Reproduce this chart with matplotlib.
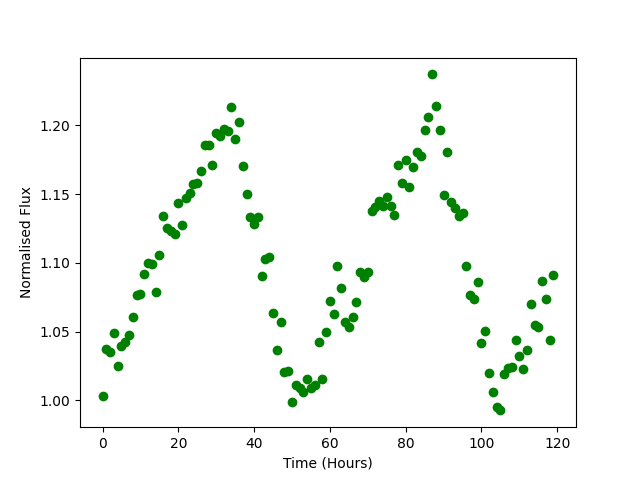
import matplotlib
matplotlib.use("Agg")
import matplotlib.pyplot as plt
import numpy as np

time_hours = np.arange(0, 120)
flux = [
    1.0029, 1.0371, 1.0349, 1.0487, 1.0249, 1.0395, 1.0424, 1.0473, 1.0604, 1.0768,
    1.0775, 1.0916, 1.1001, 1.0989, 1.0785, 1.1055, 1.1338, 1.1255, 1.1231, 1.1207,
    1.1437, 1.1273, 1.1469, 1.1505, 1.1575, 1.1583, 1.1665, 1.1859, 1.1859, 1.1709,
    1.1942, 1.1920, 1.1973, 1.1956, 1.2131, 1.1898, 1.2022, 1.1702, 1.1498, 1.1331,
    1.1284, 1.1331, 1.0902, 1.1030, 1.1040, 1.0633, 1.0364, 1.0567, 1.0204, 1.0215,
    0.9988, 1.0111, 1.0089, 1.0060, 1.0155, 1.0089, 1.0111, 1.0422, 1.0153, 1.0495,
    1.0722, 1.0625, 1.0975, 1.0815, 1.0567, 1.0535, 1.0604, 1.0713, 1.0931, 1.0895,
    1.0931, 1.1375, 1.1408, 1.1449, 1.1413, 1.1476, 1.1413, 1.1348, 1.1709, 1.1578,
    1.1748, 1.1553, 1.1697, 1.1806, 1.1775, 1.1964, 1.2058, 1.2371, 1.2138, 1.1964,
    1.1493, 1.1806, 1.1440, 1.1399, 1.1338, 1.1360, 1.0977, 1.0764, 1.0735, 1.0858,
    1.0415, 1.0502, 1.0196, 1.0060, 0.9953, 0.9927, 1.0191, 1.0233, 1.0244, 1.0439,
    1.0322, 1.0228, 1.0366, 1.0698, 1.0548, 1.0531, 1.0868, 1.0735, 1.0439, 1.0909,
]

fig = plt.figure(figsize=(6.4, 4.8), dpi=100)
plt.plot(time_hours, flux, 'go')
plt.xlabel('Time (Hours)')
plt.ylabel('Normalised Flux')
plt.savefig('out.png', dpi=100)
